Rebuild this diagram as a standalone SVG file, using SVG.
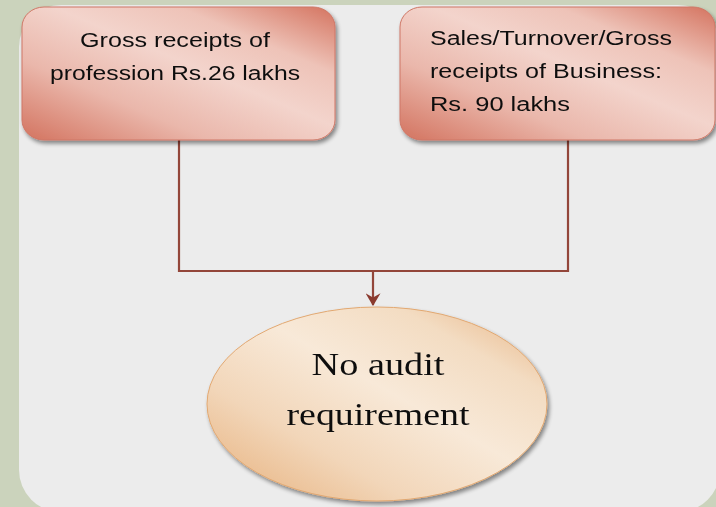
<svg xmlns="http://www.w3.org/2000/svg" width="716" height="507" viewBox="0 0 716 507">
  <style>
    .box-text { font-family: "Liberation Sans", Arial, sans-serif; font-size: 20px; fill: #111; }
    .oval-text { font-family: "Liberation Serif", "DejaVu Serif", serif; font-size: 31px; fill: #111; }
    .wire { fill: none; stroke: #93463a; stroke-width: 2.2; }
  </style>
  <defs>
    <linearGradient id="redFill" x1="0" y1="1" x2="1" y2="0">
      <stop offset="0" stop-color="#d3735f"/>
      <stop offset="0.3" stop-color="#eab7ab"/>
      <stop offset="0.55" stop-color="#f3d4cc"/>
      <stop offset="0.75" stop-color="#eec3b8"/>
      <stop offset="1" stop-color="#d4735f"/>
    </linearGradient>
    <linearGradient id="tanFill" x1="0" y1="1" x2="1" y2="0">
      <stop offset="0" stop-color="#e6ae78"/>
      <stop offset="0.3" stop-color="#f2d6b9"/>
      <stop offset="0.55" stop-color="#f8e9d8"/>
      <stop offset="0.78" stop-color="#f3dcc2"/>
      <stop offset="1" stop-color="#e7b07e"/>
    </linearGradient>
    <filter id="shade" x="-10%" y="-10%" width="125%" height="130%">
      <feGaussianBlur in="SourceAlpha" stdDeviation="2"/>
      <feOffset dx="2" dy="3" result="b"/>
      <feComponentTransfer><feFuncA type="linear" slope="0.45"/></feComponentTransfer>
      <feMerge><feMergeNode/><feMergeNode in="SourceGraphic"/></feMerge>
    </filter>
    <marker id="arrowHead" viewBox="0 0 12 14" refX="11" refY="7" markerWidth="13" markerHeight="15" markerUnits="userSpaceOnUse" orient="auto">
      <path d="M0,0 L12,7 L0,14 L4,7 Z" fill="#8a3a2e"/>
    </marker>
  </defs>

  <!-- backdrop and panel -->
  <rect x="0" y="0" width="716" height="507" fill="#cbd3bc"/>
  <rect x="19" y="5" width="701" height="507" rx="42" ry="42" fill="#ececec"/>

  <!-- connectors -->
  <g id="connectors">
    <polyline class="wire" points="179,140 179,271 568,271 568,140"/>
    <line class="wire" x1="373" y1="271" x2="373" y2="305" marker-end="url(#arrowHead)"/>
  </g>

  <g id="profession" filter="url(#shade)">
    <rect x="22" y="7" width="313" height="133" rx="22" ry="20" fill="url(#redFill)" stroke="#cf7766" stroke-width="1"/>
    <text class="box-text" x="175" y="47" text-anchor="middle" textLength="190" lengthAdjust="spacingAndGlyphs">Gross receipts of</text>
    <text class="box-text" x="175" y="80" text-anchor="middle" textLength="250" lengthAdjust="spacingAndGlyphs">profession Rs.26 lakhs</text>
  </g>

  <g id="business" filter="url(#shade)">
    <rect x="400" y="7" width="315" height="133" rx="22" ry="20" fill="url(#redFill)" stroke="#cf7766" stroke-width="1"/>
    <text class="box-text" x="430" y="45" textLength="242" lengthAdjust="spacingAndGlyphs">Sales/Turnover/Gross</text>
    <text class="box-text" x="430" y="78" textLength="232" lengthAdjust="spacingAndGlyphs">receipts of Business:</text>
    <text class="box-text" x="430" y="111" textLength="140" lengthAdjust="spacingAndGlyphs">Rs. 90  lakhs</text>
  </g>

  <g id="no-audit" filter="url(#shade)">
    <ellipse cx="377" cy="404" rx="170" ry="97" fill="url(#tanFill)" stroke="#e2a871" stroke-width="1"/>
    <text class="oval-text" x="378" y="375" text-anchor="middle" textLength="133" lengthAdjust="spacingAndGlyphs">No audit</text>
    <text class="oval-text" x="378" y="425" text-anchor="middle" textLength="183" lengthAdjust="spacingAndGlyphs">requirement</text>
  </g>
</svg>
